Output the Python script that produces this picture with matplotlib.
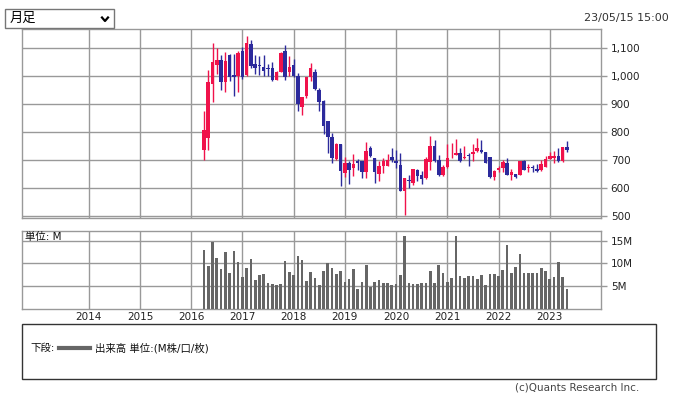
import pandas as pd
import matplotlib
matplotlib.use('Agg')
import matplotlib.pyplot as plt
from matplotlib.patches import Rectangle
from matplotlib.lines import Line2D

plt.rcParams['font.family'] = ['DejaVu Sans', 'Noto Sans CJK JP']

# monthly candles, Apr 2016 .. May 2023
months = pd.date_range('2016-04-01', periods=86, freq='MS')

opens = [735, 778, 970, 1038, 1058, 977, 1076, 1005, 999, 1090,
         1005, 1115, 1044, 1038, 1033, 1029, 1029, 987, 1015, 1090,
         1015, 1040, 1000, 888, 927, 995, 1015, 951, 912, 838,
         783, 704, 758, 653, 689, 670, 697, 697, 656, 742,
         708, 649, 680, 680, 712, 698, 683, 591, 628, 619,
         666, 648, 636, 694, 749, 700, 648, 674, 706, 719,
         725, 706, 718, 720, 733, 734, 728, 709, 638, 666,
         670, 688, 645, 651, 648, 697, 670, 674, 668, 664,
         675, 702, 708, 714, 698, 746]
highs = [876, 1023, 1119, 1100, 1076, 1087, 1080, 1080, 1090, 1105,
         1144, 1130, 1076, 1070, 1076, 1042, 1049, 1018, 1086, 1112,
         1073, 1061, 1010, 926, 997, 1045, 1024, 957, 916, 838,
         798, 760, 758, 710, 697, 723, 702, 697, 763, 749,
         708, 698, 706, 723, 744, 734, 725, 637, 646, 669,
         669, 660, 712, 786, 773, 717, 683, 756, 762, 776,
         743, 749, 724, 757, 778, 773, 728, 709, 664, 677,
         699, 707, 667, 651, 698, 700, 686, 682, 686, 700,
         714, 729, 732, 742, 746, 767]
lows = [701, 735, 906, 1007, 951, 944, 981, 927, 942, 990,
        999, 1027, 1007, 1005, 1000, 999, 981, 985, 1013, 987,
        1000, 995, 874, 862, 923, 983, 950, 874, 792, 726,
        689, 700, 606, 638, 613, 642, 666, 635, 637, 710,
        617, 624, 655, 678, 692, 673, 588, 504, 601, 610,
        624, 613, 631, 664, 692, 644, 642, 671, 706, 719,
        693, 704, 680, 698, 729, 724, 688, 637, 630, 658,
        658, 648, 627, 637, 645, 665, 658, 658, 657, 661,
        674, 702, 691, 694, 694, 727]
closes = [808, 980, 1051, 1058, 977, 1055, 998, 997, 1083, 995,
          1119, 1035, 1027, 1036, 1017, 1025, 985, 1015, 1083, 995,
          1031, 999, 901, 926, 995, 1030, 952, 906, 823, 781,
          706, 756, 661, 689, 666, 687, 688, 656, 733, 713,
          656, 677, 697, 701, 701, 688, 591, 637, 625, 669,
          644, 631, 705, 751, 697, 647, 674, 708, 708, 725,
          698, 710, 715, 728, 742, 728, 691, 640, 661, 672,
          694, 648, 658, 641, 695, 666, 674, 670, 662, 686,
          704, 714, 714, 698, 746, 737]
# volume, millions of shares
volume = [12.9, 9.4, 14.7, 11.2, 8.8, 12.5, 7.9, 12.8, 10.3, 7.0,
          9.0, 11.0, 6.4, 7.4, 7.7, 5.7, 5.5, 5.3, 5.5, 10.5,
          8.1, 7.4, 11.6, 10.7, 6.1, 8.1, 6.8, 5.3, 8.3, 10.1,
          9.0, 7.7, 8.3, 5.9, 6.6, 8.8, 4.4, 5.9, 9.6, 4.8,
          5.9, 6.4, 5.7, 5.7, 5.3, 5.5, 7.4, 16.0, 5.7, 5.4,
          5.4, 5.7, 5.7, 8.3, 5.7, 9.6, 7.8, 5.9, 6.8, 15.9,
          7.2, 6.7, 7.2, 7.2, 6.5, 7.4, 5.2, 7.6, 7.6, 7.2,
          8.5, 14.1, 8.0, 9.1, 12.0, 7.8, 8.0, 7.8, 8.0, 8.9,
          8.3, 6.5, 7.0, 10.4, 7.0, 4.3]

years = list(range(2014, 2024))
price_ticks = [500, 600, 700, 800, 900, 1000, 1100]
vol_ticks = [5, 10, 15]

UP = '#f0124b'
DOWN = '#2c2a9c'
GRID = '#999999'

W, H = 676, 397
fig = plt.figure(figsize=(W / 100, H / 100), dpi=100)


def px_rect(x0, y0, x1, y1):
    return [x0 / W, 1 - y1 / H, (x1 - x0) / W, (y1 - y0) / H]


def fx(x):
    return x / W


def fy(y):
    return 1 - y / H


x = months.year + (months.month - 1) / 12
xlim = (2012.69, 2024.0)

ax = fig.add_axes(px_rect(21.6, 29, 601, 218))
axv = fig.add_axes(px_rect(21.6, 231, 601, 309))

# candles
colors = [UP if c >= o else DOWN for o, c in zip(opens, closes)]
bottoms = [min(o, c) for o, c in zip(opens, closes)]
heights = [max(abs(c - o), 2) for o, c in zip(opens, closes)]
ax.vlines(x, lows, highs, colors=colors, linewidth=1.0, zorder=3)
ax.bar(x, heights, bottom=bottoms, width=0.82 / 12, color=colors, linewidth=0, zorder=4)

axv.bar(x, volume, width=0.62 / 12, color='#666666', linewidth=0, zorder=3)

for a in (ax, axv):
    a.set_xlim(*xlim)
    a.set_xticks(years)
    a.grid(True, color=GRID, linewidth=1.0, zorder=0)
    for s in a.spines.values():
        s.set_color(GRID)
        s.set_linewidth(1.0)
    a.yaxis.tick_right()
    a.tick_params(axis='y', length=4, width=1.0, color=GRID, labelsize=7.5,
                  pad=3, labelcolor='#222222')
    a.tick_params(axis='x', length=0)

ax.set_ylim(492.9, 1167.9)
ax.set_yticks(price_ticks)
ax.set_yticklabels([f'{v:,}' for v in price_ticks])
ax.set_xticklabels([])

axv.set_ylim(0, 17.1)
axv.set_yticks(vol_ticks)
axv.set_yticklabels([f'{v}M' for v in vol_ticks])
axv.set_xticklabels([str(y) for y in years])
axv.tick_params(axis='x', labelsize=7.5, pad=2, labelcolor='#222222')
axv.text(fx(25), fy(237), '単位: M', transform=fig.transFigure, fontsize=7.5,
         va='center', ha='left', color='#111111', zorder=5)

# dropdown and timestamp on top
fig.patches.append(Rectangle((fx(5.3), fy(28.3)), fx(108.7), 19 / H, transform=fig.transFigure,
                             facecolor='white', edgecolor='#767676', linewidth=1.0))
fig.text(fx(10), fy(18.8), '月足', fontsize=9.5, va='center', ha='left',
         family=['Noto Sans CJK JP'], color='#000000')
fig.lines.append(Line2D([fx(102), fx(105), fx(108)], [fy(17.5), fy(21), fy(17.5)],
                        transform=fig.transFigure, color='black', linewidth=1.6))
fig.text(fx(669), fy(18), '23/05/15 15:00', fontsize=8, va='center', ha='right', color='#333333')

# legend box
fig.patches.append(Rectangle((fx(21.6), fy(379)), fx(656 - 21.6), 55 / H, transform=fig.transFigure,
                             facecolor='none', edgecolor='#333333', linewidth=1.0))
fig.text(fx(30), fy(348), '下段:', fontsize=7.5, va='center', ha='left', color='#111111')
fig.lines.append(Line2D([fx(59), fx(90)], [fy(348), fy(348)], transform=fig.transFigure,
                        color='#666666', linewidth=3))
fig.text(fx(95), fy(348), '出来高 単位:(M株/口/枚)', fontsize=7.5, va='center', ha='left',
         color='#111111')
fig.text(fx(639), fy(387), '(c)Quants Research Inc.', fontsize=7.5, va='center', ha='right',
         color='#444444')

fig.savefig('out.png', dpi=100)
